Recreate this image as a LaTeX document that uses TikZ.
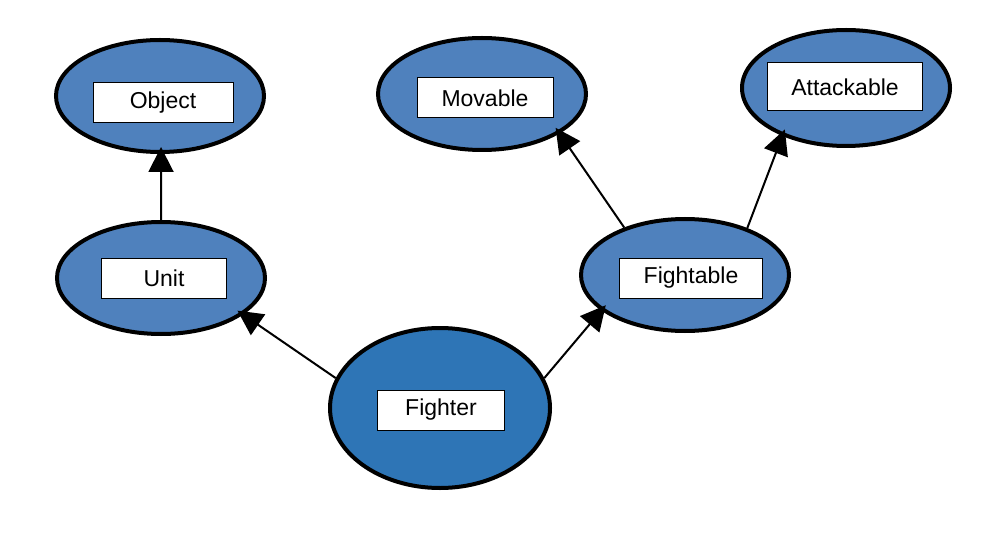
\documentclass[tikz,border=0pt]{standalone}
\usepackage{fontspec}
\setmainfont{Liberation Sans}
\usepackage{tikz}
\usetikzlibrary{shapes.geometric,arrows.meta}

\definecolor{blobblue}{RGB}{79,129,189}
\definecolor{darkblob}{RGB}{46,117,182}

\begin{document}
\begin{tikzpicture}[x=0.5pt,y=-0.5pt,>={Triangle[length=12.5pt,width=12.5pt]},
  blob/.style={ellipse,draw,line width=2pt,fill=blobblue,inner sep=0pt,minimum width=104pt,minimum height=56pt},
  tag/.style={draw,fill=white,line width=0.5pt,inner sep=0pt,minimum height=20pt,font=\fontsize{11.5}{13}\selectfont},
  link/.style={->,line width=1pt,shorten >=-3.5pt}]
\useasboundingbox (0,0) rectangle (1005,534);
% ellipses
\node[blob] (object) at (160,96) {};
\node[blob] (movable) at (482,94) {};
\node[blob,minimum height=58pt] (attack) at (846,88) {};
\node[blob] (unit) at (161,278) {};
\node[blob] (fightable) at (685,275) {};
\node[blob,fill=darkblob,minimum width=110pt,minimum height=80pt] (fighter) at (440,408) {};
% labels
\node[tag,minimum width=70pt] (object-t) at (163,103) {Object};
\node[tag,minimum width=68pt] (movable-t) at (485,98) {Movable};
\node[tag,minimum width=77.5pt,minimum height=24pt] (attack-t) at (845,87) {Attackable};
\node[tag,minimum width=62.5pt] (unit-t) at (164,278) {Unit};
\node[tag,minimum width=71.5pt] (fightable-t) at (691,278) {Fightable};
\node[tag,minimum width=63.5pt] (fighter-t) at (441,410) {Fighter};
% inheritance arrows
\draw[link] (unit.90) -- (object.-89);
\draw[link] (fighter.164) -- (unit.-24);
\draw[link] (fighter.16) -- (fightable.-157);
\draw[link] (fightable.142) -- (movable.-27);
\draw[link] (fightable.37) -- (attack.-143);
\end{tikzpicture}
\end{document}
